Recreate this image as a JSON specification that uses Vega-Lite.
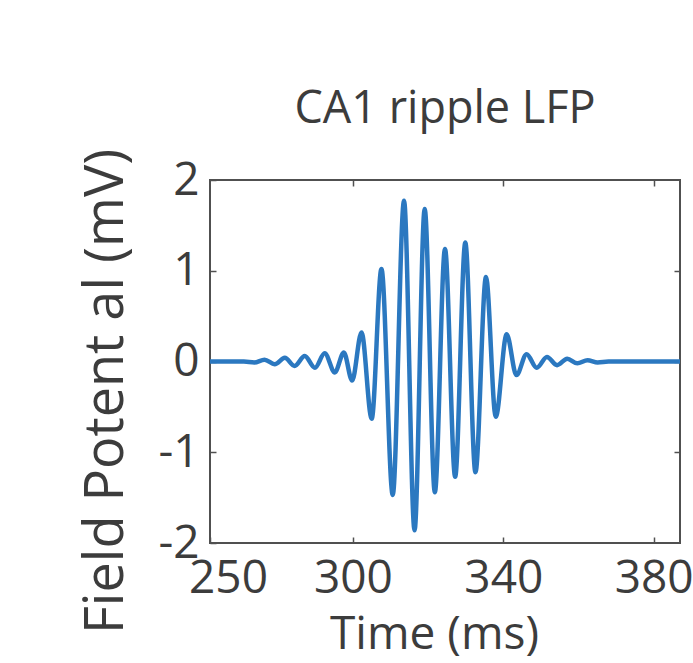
{
  "$schema": "https://vega.github.io/schema/vega-lite/v6.json",
  "autosize": "none",
  "width": 470,
  "height": 363,
  "padding": {"left": 210, "top": 180, "right": 13, "bottom": 120},
  "background": "white",
  "config": {
    "view": {"stroke": "#505050", "strokeWidth": 2},
    "font": "Open Sans",
    "axis": {"labelFont": "Open Sans", "titleFont": "Open Sans", "labelColor": "#3c3c3c", "titleColor": "#3c3c3c", "titleFontWeight": "normal", "domain": false, "grid": false, "tickColor": "#505050", "tickWidth": 1.5}
  },
  "title": {"text": "CA1 ripple LFP", "fontSize": 45, "font": "Open Sans", "fontWeight": "normal", "color": "#3c3c3c", "anchor": "middle", "baseline": "alphabetic", "offset": -20},
  "data": {"values": [
    {"t": 262, "v": 0},
    {"t": 271.0, "v": 0},
    {"t": 273.8, "v": -0.01},
    {"t": 276.5, "v": 0.02},
    {"t": 279.2, "v": -0.03},
    {"t": 281.9, "v": 0.04},
    {"t": 284.5, "v": -0.05},
    {"t": 287.2, "v": 0.06},
    {"t": 289.9, "v": -0.07},
    {"t": 292.5, "v": 0.09},
    {"t": 295.2, "v": -0.12},
    {"t": 297.6, "v": 0.10},
    {"t": 299.8, "v": -0.21},
    {"t": 302.3, "v": 0.32},
    {"t": 305.0, "v": -0.63},
    {"t": 307.6, "v": 1.02},
    {"t": 310.6, "v": -1.47},
    {"t": 313.6, "v": 1.77},
    {"t": 316.4, "v": -1.86},
    {"t": 319.1, "v": 1.68},
    {"t": 321.8, "v": -1.44},
    {"t": 324.5, "v": 1.24},
    {"t": 327.2, "v": -1.27},
    {"t": 329.9, "v": 1.31},
    {"t": 332.6, "v": -1.22},
    {"t": 335.4, "v": 0.93},
    {"t": 338.0, "v": -0.61},
    {"t": 340.9, "v": 0.30},
    {"t": 343.5, "v": -0.15},
    {"t": 346.2, "v": 0.08},
    {"t": 348.9, "v": -0.07},
    {"t": 351.6, "v": 0.05},
    {"t": 354.3, "v": -0.04},
    {"t": 357.0, "v": 0.03},
    {"t": 359.7, "v": -0.02},
    {"t": 362.4, "v": 0.015},
    {"t": 365.1, "v": -0.01},
    {"t": 368.0, "v": 0},
    {"t": 387, "v": 0}
  ]},
  "layer": [
    {
      "mark": {"type": "line", "interpolate": "monotone", "color": "#2b78c0", "strokeWidth": 4.5},
      "encoding": {
        "x": {"field": "t", "type": "quantitative", "scale": {"domain": [262, 387], "nice": false, "zero": false},
          "axis": {"orient": "bottom", "values": [262, 300, 340, 380], "labelExpr": "datum.value < 280 ? '250' : datum.label", "labelFontSize": 46, "labelFlush": false, "labelOffset": {"condition": {"test": "datum.value < 280", "value": 18}, "value": 0}, "tickSize": -6, "labelPadding": 19, "labelBaseline": "top", "title": "Time (ms)", "titleFontSize": 46, "titleX": 224, "titleY": 105, "titleBaseline": "alphabetic", "titleAnchor": "middle", "titleAlign": "center"}},
        "y": {"field": "v", "type": "quantitative", "scale": {"domain": [-2, 2], "nice": false},
          "axis": {"orient": "left", "values": [-2, -1, 0, 1, 2], "labelExpr": "'' + datum.value", "labelFontSize": 46, "tickSize": -6, "labelPadding": 17, "title": "Field Potent al (mV)", "titleFontSize": 54, "titleAngle": -90, "titleX": -88, "titleY": 211, "titleBaseline": "alphabetic", "titleAlign": "center", "titleAnchor": "middle"}}
      }
    },
    {
      "mark": {"type": "line", "opacity": 0},
      "encoding": {
        "x": {"field": "t", "type": "quantitative", "scale": {"domain": [262, 387], "nice": false, "zero": false},
          "axis": {"orient": "top", "values": [300, 340, 380], "labels": false, "tickSize": -6, "title": null}},
        "y": {"field": "v", "type": "quantitative", "scale": {"domain": [-2, 2], "nice": false},
          "axis": {"orient": "right", "values": [-1, 0, 1], "labels": false, "tickSize": -6, "title": null}}
      }
    }
  ],
  "resolve": {"axis": {"x": "independent", "y": "independent"}}
}
